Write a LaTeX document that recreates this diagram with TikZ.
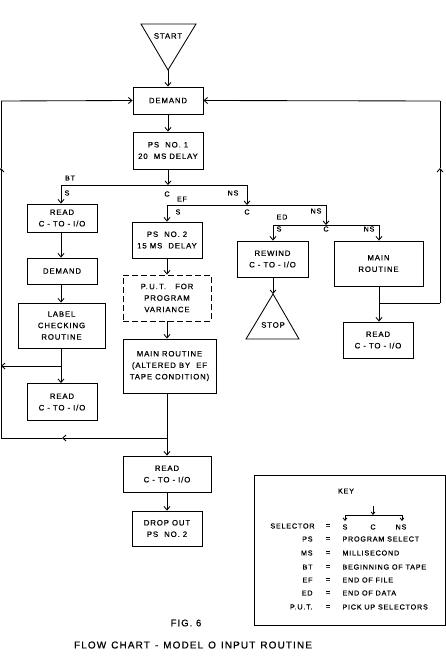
\documentclass[tikz,border=0pt]{standalone}
\usepackage{fontspec}
\setmainfont{Liberation Sans}[LetterSpace=11, FakeBold=0.7]
\usetikzlibrary{arrows.meta}
\begin{document}
\begin{tikzpicture}[x=1pt,y=-1pt, line width=0.85pt,
  box/.style={draw, rectangle, inner sep=0pt, align=center, font=\fontsize{7.8}{11.5}\selectfont},
  arr/.style={-{Straight Barb[length=3.5pt,width=6pt]}},
  smarr/.style={-{Straight Barb[length=2.5pt,width=4pt]}},
  lab/.style={font=\fontsize{7.2}{8}\selectfont, inner sep=0pt},
  keyt/.style={font=\fontsize{7.2}{8}\selectfont, inner sep=0pt}]
\useasboundingbox (0,0) rectangle (446,660);

% start / stop triangles
\draw (141,24) -- (196,24) -- (168,70) -- cycle;
\coordinate (startapex) at (168,70);
\node[lab, font=\fontsize{7.8}{9}\selectfont] (starttxt) at (168,36) {START};

% boxes
\node[box, minimum width=70pt, minimum height=27pt] (demand) at (168,100.5) {DEMAND};
\node[box, minimum width=70pt, minimum height=37pt] (ps1) at (168,150.5) {PS~~NO.~1\\20~~MS DELAY};
\node[box, minimum width=70pt, minimum height=28pt] (readA) at (62,218) {READ\\C - TO - I/O};
\node[box, minimum width=70pt, minimum height=26pt] (demandA) at (62,271) {DEMAND};
\node[box, minimum width=87pt, minimum height=45pt] (label) at (61.5,325.5) {LABEL\\CHECKING\\ROUTINE};
\node[box, minimum width=70pt, minimum height=37pt] (readB) at (62,402) {READ\\C - TO - I/O};
\node[box, minimum width=70pt, minimum height=36pt] (ps2) at (167,240) {PS~~NO.~2\\15~MS~~DELAY};
\node[box, dashed, dash pattern=on 6pt off 3pt, minimum width=88pt, minimum height=46pt] (put) at (167,298) {P.\,U.\,T.~~~FOR\\PROGRAM\\VARIANCE};
\node[box, minimum width=93pt, minimum height=54pt] (main) at (169.5,366) {MAIN ROUTINE\\(ALTERED BY~~EF\\TAPE CONDITION)};
\node[box, minimum width=88pt, minimum height=36pt] (readC) at (167,474) {READ\\C - TO - I/O};
\node[box, minimum width=70pt, minimum height=35pt] (drop) at (167,528.5) {DROP OUT\\PS~~NO.~2};
\node[box, minimum width=71pt, minimum height=36pt] (rewind) at (272.5,259) {REWIND\\C - TO - I/O};
\node[box, minimum width=89pt, minimum height=45pt] (mainR) at (378.5,263.5) {MAIN\\ROUTINE};
\node[box, minimum width=70pt, minimum height=36pt] (readR) at (378,340) {READ\\C - TO - I/O};

\draw (273,294) -- (299,339) -- (246,339) -- cycle;
\coordinate (stopapex) at (273,294);
\node[lab, font=\fontsize{7.8}{9}\selectfont] (stoptxt) at (273,325) {STOP};

% main flow
\draw[arr] (startapex) -- (demand.north);
\draw[arr] (demand.south) -- (ps1.north);

% selector 1
\coordinate (s1c) at (168,185);
\coordinate (s1l) at (61,185);
\coordinate (s1r) at (247,185);
\draw[arr] (ps1.south) -- (s1c);
\draw (s1l) -- (s1r);
\draw[arr] (s1l) -- (readA.north -| s1l);
% selector 2
\coordinate (s2l) at (167,205);
\coordinate (s2r) at (326,205);
\coordinate (s2c) at (247,205);
\draw[arr] (s1r) -- (s2c);
\draw (s2l) -- (s2r);
\draw[arr] (s2l) -- (ps2.north);
% selector 3
\coordinate (s3l) at (273,225);
\coordinate (s3r) at (379,225);
\coordinate (s3c) at (326,225);
\draw[arr] (s2r) -- (s3c);
\draw (s3l) -- (s3r);
\draw[arr] (s3l) -- (rewind.north -| s3l);
\draw[arr] (s3r) -- (mainR.north -| s3r);

% selector labels
\node[lab] (bt) at (70,178) {BT};
\node[lab] (s1S) at (67,193) {S};
\node[lab] (s1C) at (167,194) {C};
\node[lab] (s1N) at (233,193) {NS};
\node[lab] (ef) at (182,199) {EF};
\node[lab] (s2S) at (178,212) {S};
\node[lab] (s2C) at (247,212) {C};
\node[lab] (s2N) at (316,211) {NS};
\node[lab] (ed) at (282,217) {ED};
\node[lab] (s3S) at (279,229) {S};
\node[lab] (s3C) at (326,229) {C};
\node[lab] (s3N) at (369,229) {NS};

% left column
\draw[arr] (readA.south -| s1l) -- (demandA.north -| s1l);
\draw[arr] (demandA.south -| s1l) -- (label.north -| s1l);
\coordinate (jl) at (61,366);
\coordinate (jlw) at (1,366);
\draw (label.south -| jl) -- (jl);
\draw[arr] (jl) -- (readB.north -| jl);
\draw[arr] (jl) -- (jlw);

% center column
\draw[arr] (ps2.south) -- (put.north);
\draw[arr] (put.south) -- (main.north -| put);
\coordinate (jc) at (167,438);
\draw (main.south -| jc) -- (jc);
\draw[arr] (jc) -- (readC.north);
\draw[arr] (readC.south) -- (drop.north);

% left loop
\coordinate (lb) at (1,438);
\coordinate (lbm) at (62,438);
\coordinate (lt) at (1,101);
\coordinate (lm) at (1,168);
\draw[arr] (jc) -- (lbm);
\draw (lbm) -- (lb);
\draw[arr] (lb) -- (lm);
\draw (lm) -- (lt);
\draw[arr] (lt) -- (demand.west);

% right column
\draw[arr] (rewind.south -| stopapex) -- (stopapex);
\coordinate (jr) at (379,303);
\coordinate (rb) at (440,303);
\coordinate (rm) at (440,168);
\coordinate (rt) at (440,101);
\draw (mainR.south -| jr) -- (jr);
\draw[arr] (jr) -- (readR.north -| jr);
\draw (jr) -- (rb);
\draw[arr] (rb) -- (rm);
\draw (rm) -- (rt);
\draw[arr] (rt) -- (demand.east);

% key
\node[draw, inner sep=0pt, minimum width=191pt, minimum height=150pt] (key) at (349.5,550) {};
\node[lab] (keyt) at (346,491) {KEY};
\coordinate (kc) at (373,506);
\coordinate (kj) at (373,515);
\coordinate (kl) at (345,515);
\coordinate (kr) at (402,515);
\coordinate (klb) at (345,521);
\coordinate (krb) at (402,521);
\draw[smarr] (kc) -- (kj);
\draw (kl) -- (kr);
\draw[smarr] (kl) -- (klb);
\draw[smarr] (kr) -- (krb);
\node[keyt, anchor=east] (k1a) at (315,526) {SELECTOR};
\node[keyt] (k1b) at (328,526) {=};
\node[keyt] (k1s) at (345,527) {S};
\node[keyt] (k1c) at (373,527) {C};
\node[keyt] (k1n) at (401,527) {NS};
\node[keyt, anchor=east] (k2a) at (313,539) {PS};
\node[keyt] (k2b) at (328,539) {=};
\node[keyt, anchor=west] (k2c) at (342,539) {PROGRAM SELECT};
\node[keyt, anchor=east] (k3a) at (313,553) {MS};
\node[keyt] (k3b) at (328,553) {=};
\node[keyt, anchor=west] (k3c) at (342,553) {MILLISECOND};
\node[keyt, anchor=east] (k4a) at (313,567) {BT};
\node[keyt] (k4b) at (328,567) {=};
\node[keyt, anchor=west] (k4c) at (342,567) {BEGINNING OF TAPE};
\node[keyt, anchor=east] (k5a) at (313,580) {EF};
\node[keyt] (k5b) at (328,580) {=};
\node[keyt, anchor=west] (k5c) at (342,580) {END OF FILE};
\node[keyt, anchor=east] (k6a) at (313,593) {ED};
\node[keyt] (k6b) at (328,593) {=};
\node[keyt, anchor=west] (k6c) at (342,593) {END OF DATA};
\node[keyt, anchor=east] (k7a) at (313,607) {P.U.T.};
\node[keyt] (k7b) at (328,607) {=};
\node[keyt, anchor=west] (k7c) at (342,607) {PICK UP SELECTORS};

% captions
\node[inner sep=0pt, font=\fontsize{9.5}{10}\selectfont] (fig) at (186,623) {FIG. 6};
\node[inner sep=0pt, font=\fontsize{10}{11}\selectfont] (title) at (193,645) {FLOW\enspace CHART\enspace -\enspace MODEL\enspace O\enspace INPUT\enspace ROUTINE};
\end{tikzpicture}
\end{document}
